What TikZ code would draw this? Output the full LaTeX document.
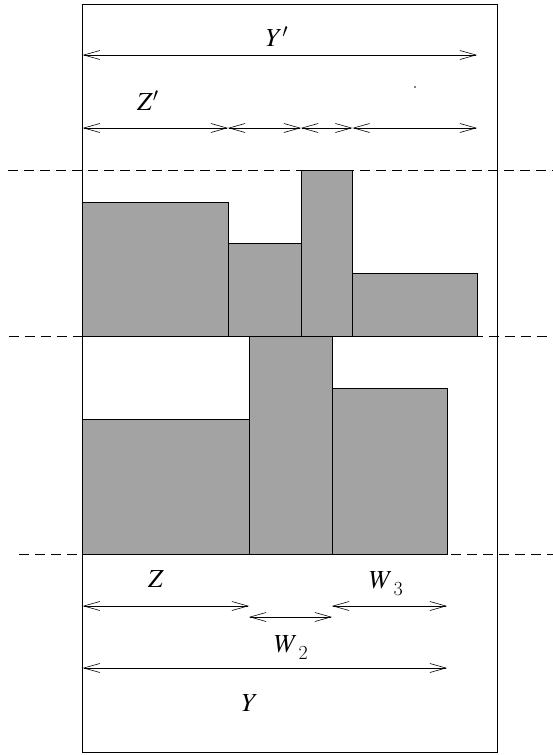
\documentclass[tikz,border=0pt]{standalone}
\usepackage{mathptmx}
\usetikzlibrary{arrows.meta, positioning}

\newcommand{\subsz}[1]{\raisebox{-7pt}{\fontsize{20}{24}\selectfont #1}}

\begin{document}
\begin{tikzpicture}[x=1pt, y=-1pt, line width=0.7pt,
        dim/.style={{Straight Barb[length=16pt,width=9pt]}-{Straight Barb[length=16pt,width=9pt]}, line width=0.6pt},
        cut/.style={dash pattern=on 10pt off 6pt},
        blk/.style={draw, fill=black!36},
        lbl/.style={font=\fontsize{26}{30}\selectfont}]
        \useasboundingbox (0,0) rectangle (553,755);
        \draw (82.7,4) rectangle (497.7,752);

        % strip lines
        \draw[cut] (8,170) -- (553,170);
        \draw[cut] (9,336) -- (553,336);
        \draw[cut] (19,554) -- (553,554);

        % upper strip
        \draw[blk] (82.7,202) rectangle (228,336);
        \draw[blk] (228,243) rectangle (301,336);
        \draw[blk] (301,170) rectangle (352.5,336);
        \draw[blk] (352.5,273) rectangle (477,336);

        % lower strip
        \draw[blk] (82.7,419) rectangle (249,554);
        \draw[blk] (249,336) rectangle (332,554);
        \draw[blk] (332,388) rectangle (447,554);

        \coordinate (ya) at (82.7,55);
        \coordinate (yb) at (477,55);
        \coordinate (za) at (82.7,128);
        \coordinate (zb) at (228,128);
        \coordinate (zc) at (301,128);
        \coordinate (zd) at (352.5,128);
        \coordinate (ze) at (477,128);
        \coordinate (la) at (82.7,606);
        \coordinate (lb) at (249,606);
        \coordinate (lc) at (332,606);
        \coordinate (ld) at (447,606);
        \coordinate (wb) at (249,617);
        \coordinate (wc) at (332,617);
        \coordinate (ba) at (82.7,668);
        \coordinate (bb) at (447,668);

        \node[lbl] (ytop) at (277,37) {$Y'$};
        \node[lbl] (ztop) at (148,101) {$Z'$};
        \node[lbl] (zbot) at (156,579) {$Z$};
        \node[lbl] (wthree) at (386,584) {$W$\kern1pt\subsz{3}};
        \node[lbl] (wtwo) at (291,648) {$W$\kern1pt\subsz{2}};
        \node[lbl] (ybot) at (250,703) {$Y$};

        \path[dim]
        (ya) edge (yb)
        (za) edge (zb)
        (zb) edge (zc)
        (zc) edge (zd)
        (zd) edge (ze)
        (la) edge (lb)
        (wb) edge (wc)
        (lc) edge (ld)
        (ba) edge (bb);

        \fill (415,87) circle (0.9pt);
    \end{tikzpicture}
\end{document}
